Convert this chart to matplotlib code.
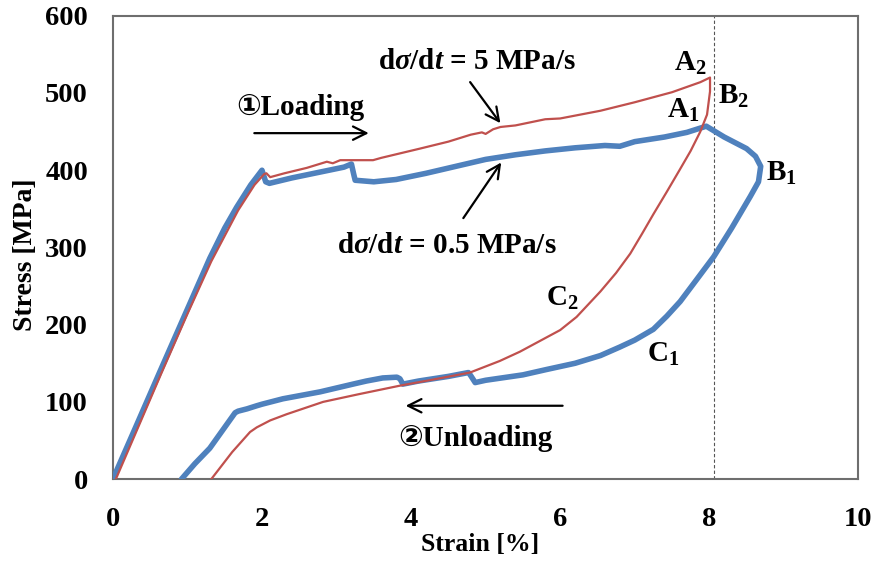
import matplotlib
matplotlib.use('Agg')
import matplotlib.pyplot as plt

plt.rcParams['font.family'] = ['Liberation Serif', 'DejaVu Serif']
plt.rcParams['font.weight'] = 'bold'
plt.rcParams['mathtext.fontset'] = 'custom'
plt.rcParams['mathtext.rm'] = 'Liberation Serif:bold'
plt.rcParams['mathtext.it'] = 'Liberation Serif:italic:bold'
plt.rcParams['mathtext.bf'] = 'Liberation Serif:bold'

# 0.5 MPa/s curve (blue)
strain_slow = [0, 0.3, 0.63, 0.99, 1.3, 1.5, 1.66, 1.85, 2.0, 2.05, 2.1, 2.4, 2.8, 3.1, 3.2, 3.23, 3.25,
               3.5, 3.8, 4.2, 4.6, 5.0, 5.4, 5.8, 6.2, 6.6, 6.8, 7.0, 7.4, 7.7, 7.96,
               8.2, 8.5, 8.62, 8.69, 8.66, 8.55, 8.3, 8.06, 7.82, 7.61, 7.43, 7.25, 7.0,
               6.8, 6.54, 6.2, 5.82, 5.5, 5.0, 4.86, 4.8, 4.77, 4.5, 4.1, 3.89, 3.85,
               3.81, 3.62, 3.4, 3.22, 2.78, 2.28, 2.0, 1.93, 1.8, 1.68, 1.64, 1.3, 1.1, 0.92]
stress_slow = [0, 66, 139, 218, 286, 325, 352, 381, 400, 385, 383, 390, 398, 404, 408, 395, 387,
               385, 388, 396, 405, 414, 420, 425, 429, 432, 431, 437, 443, 449, 457,
               443, 428, 418, 405, 385, 366, 325, 288, 257, 230, 211, 194, 180,
               171, 160, 150, 142, 135, 128, 125, 134, 138, 133, 127, 123, 130,
               132, 131, 127, 123, 113, 104, 97, 95, 91, 88, 86, 40, 20, 0]

# 5 MPa/s curve (red)
strain_fast = [0.04, 0.65, 1.0, 1.32, 1.68, 1.9, 2.03, 2.06, 2.11, 2.3, 2.6, 2.87, 2.95, 3.05, 3.49,
               3.6, 4.12, 4.5, 4.8, 4.95, 5.0, 5.1, 5.2, 5.4, 5.6, 5.8, 6.0, 6.54, 7.0,
               7.5, 7.88, 8.01, 8.01, 7.97, 7.88, 7.75, 7.6, 7.43, 7.25, 7.1, 6.94, 6.75,
               6.54, 6.22, 6.0, 5.46, 5.19, 4.79, 4.3, 3.85, 3.3, 2.82, 2.33, 2.11, 1.93,
               1.84, 1.6, 1.32]
stress_fast = [0, 137, 214, 282, 348, 381, 395, 396, 391, 396, 403, 411, 409, 413, 413,
               416, 428, 437, 446, 449, 447, 453, 456, 458, 462, 466, 467, 477, 488,
               501, 514, 520, 502, 472, 450, 425, 400, 372, 343, 318, 292, 267,
               243, 210, 193, 165, 153, 138, 129, 121, 110, 100, 84, 76, 67,
               61, 35, 0]

point_labels = ['A', 'B', 'A', 'B', 'C', 'C']
point_subs = ['2', '2', '1', '1', '2', '1']
point_x = [7.74, 8.33, 7.65, 8.97, 6.03, 7.38]
point_y = [538, 496, 477, 396, 234, 162]

fig = plt.figure(figsize=(8.75, 5.63), dpi=100)
ax = fig.add_axes([0.129, 0.149, 0.852, 0.823])

ax.plot(strain_slow, stress_slow, color='#4F81BD', lw=4.0, solid_joinstyle='round',
        solid_capstyle='round', zorder=3)
ax.plot(strain_fast, stress_fast, color='#C0504D', lw=1.6, zorder=4)
ax.axvline(8.06, color='#555555', lw=0.8, ls=(0, (3, 2)), zorder=2)

ax.set_xlim(0, 10)
ax.set_ylim(0, 600)
ax.set_xticks(range(0, 11, 2))
ax.set_yticks(range(0, 601, 100))
ax.tick_params(length=0, labelsize=20.5)
ax.tick_params(axis='y', pad=18)
ax.tick_params(axis='x', pad=20)
for lab in ax.get_xticklabels() + ax.get_yticklabels():
    lab.set_fontweight('bold')
for s in ax.spines.values():
    s.set_color('#6E6E6E')
    s.set_linewidth(1.5)

ax.set_xlabel('Strain [%]', fontsize=18.5, fontweight='bold')
ax.set_ylabel('Stress [MPa]', fontsize=20, fontweight='bold')
ax.xaxis.set_label_coords(0.493, -0.117)
ax.yaxis.set_label_coords(-0.10, 0.484)

txt = dict(fontsize=21, fontweight='bold', ha='center', va='center')
ax.text(4.88, 541, r'd$\sigma$/d$t$ = 5 MPa/s', **txt)
ax.text(4.48, 303, r'd$\sigma$/d$t$ = 0.5 MPa/s', **txt)
ax.text(2.51, 481, '①Loading', family=['Liberation Serif', 'DejaVu Sans'], **txt)
ax.text(4.86, 52, '②Unloading', family=['Liberation Serif', 'DejaVu Sans'], **txt)

arw = dict(arrowstyle='->', color='black', lw=1.6, mutation_scale=24)
ax.annotate('', xy=(5.22, 458), xytext=(4.77, 517), arrowprops=arw)
ax.annotate('', xy=(5.23, 413), xytext=(4.68, 335), arrowprops=arw)
ax.annotate('', xy=(3.47, 448), xytext=(1.86, 448), arrowprops=arw)
ax.annotate('', xy=(3.89, 95), xytext=(6.07, 95), arrowprops=arw)

for lab, sub, x, y in zip(point_labels, point_subs, point_x, point_y):
    ax.text(x, y, lab + '$_{' + sub + '}$', **txt)

fig.savefig('out.png', dpi=100)
